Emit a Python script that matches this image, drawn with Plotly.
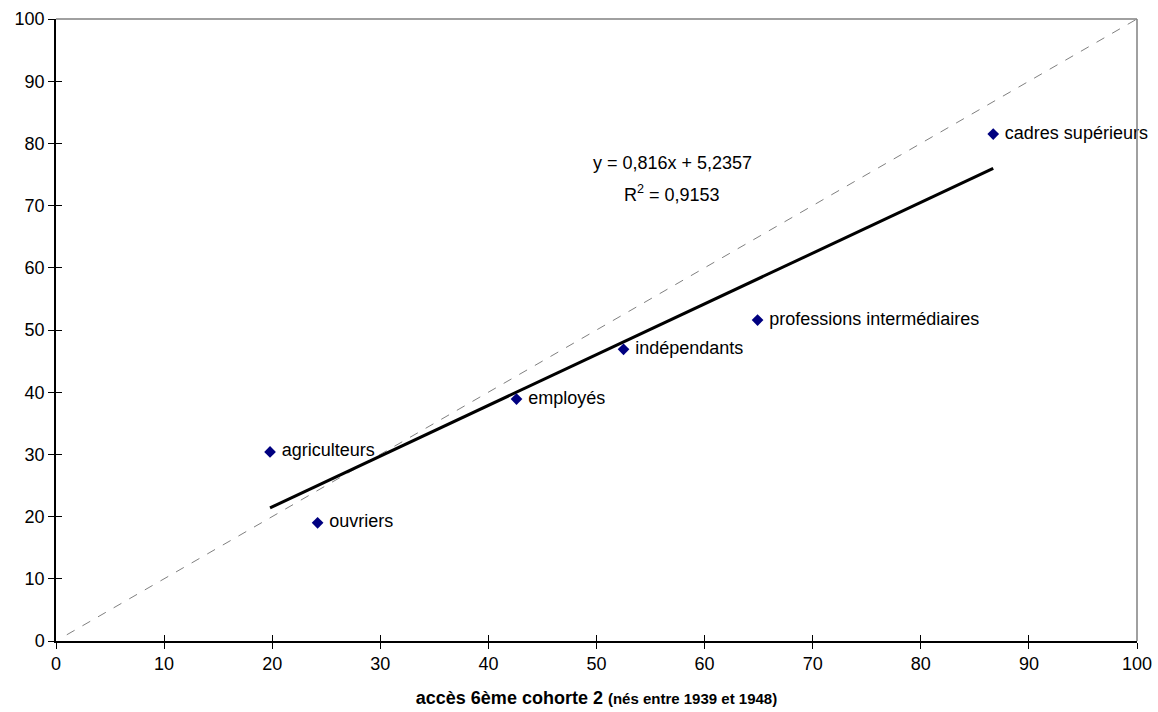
import plotly.graph_objects as go

categories = ["agriculteurs", "ouvriers", "employés", "indépendants",
              "professions intermédiaires", "cadres supérieurs"]
x_vals = [19.8, 24.2, 42.6, 52.5, 64.9, 86.7]
y_vals = [30.4, 19.0, 38.9, 46.9, 51.6, 81.5]
slope = 0.816
intercept = 5.2357
r2 = 0.9153
diag = [1, 100]
ticks = list(range(0, 101, 10))

fit_x = [min(x_vals), max(x_vals)]
fit_y = [slope * v + intercept for v in fit_x]

font = "Liberation Sans, Arial, sans-serif"
fig = go.Figure()
fig.add_trace(go.Scatter(x=diag, y=diag, mode="lines",
                         line=dict(color="#808080", width=1, dash="dash"),
                         hoverinfo="skip", showlegend=False, cliponaxis=False))
fig.add_trace(go.Scatter(x=fit_x, y=fit_y, mode="lines",
                         line=dict(color="black", width=3),
                         showlegend=False))
fig.add_trace(go.Scatter(x=x_vals, y=y_vals, mode="markers+text",
                         text=[" " + c for c in categories],
                         textposition="middle right",
                         textfont=dict(size=18, color="black", family=font),
                         marker=dict(symbol="diamond", size=9, color="#000080"),
                         cliponaxis=False, showlegend=False))

fig.add_annotation(x=57, y=76.8, xref="x", yref="y", showarrow=False,
                   text="y = 0,816x + 5,2357",
                   font=dict(size=18, color="black", family=font))
fig.add_annotation(x=57, y=72.0, xref="x", yref="y", showarrow=False,
                   text="R<sup>2</sup> = 0,9153",
                   font=dict(size=18, color="black", family=font))

axis_common = dict(range=[0, 100], tickvals=ticks, showgrid=False, zeroline=False,
                   ticks="outside", ticklen=6, tickcolor="black", tickwidth=1,
                   showline=True, linecolor="black", linewidth=1.5, automargin=False,
                   ticklabeloverflow="allow",
                   tickfont=dict(size=18, color="black", family=font))
fig.update_layout(
    width=1158, height=712,
    margin=dict(l=56, r=21, t=19, b=71),
    plot_bgcolor="white", paper_bgcolor="white",
    xaxis=dict(**axis_common,
               title=dict(text="<b>accès 6ème cohorte 2 <span style='font-size:15px'>(nés entre 1939 et 1948)</span></b>",
                          font=dict(size=18, color="black", family=font), standoff=18)),
    yaxis=dict(**axis_common),
    xaxis2=dict(range=[0, 100], tickvals=ticks, overlaying="x", showticklabels=False,
                ticks="inside", ticklen=6, tickcolor="black", showgrid=False, zeroline=False,
                showline=False, automargin=False),
    yaxis2=dict(range=[0, 100], tickvals=ticks, overlaying="y", showticklabels=False,
                ticks="inside", ticklen=6, tickcolor="black", showgrid=False, zeroline=False,
                showline=False, automargin=False),
    shapes=[
        dict(type="line", xref="paper", yref="paper", x0=0, x1=1, y0=1, y1=1,
             line=dict(color="#808080", width=1.5)),
        dict(type="line", xref="paper", yref="paper", x0=1, x1=1, y0=0, y1=1,
             line=dict(color="#808080", width=1.5)),
    ],
)
fig.add_trace(go.Scatter(x=[None], y=[None], xaxis="x2", yaxis="y2", showlegend=False))

fig.write_html("out.html", config={"displayModeBar": False},
               post_script="document.body.style.margin='0';")
